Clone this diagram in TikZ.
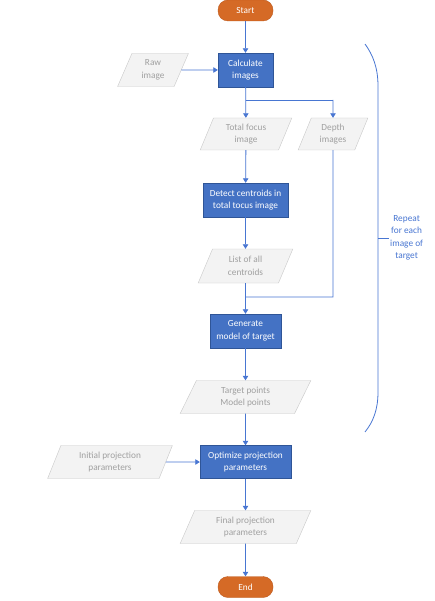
\documentclass[tikz,border=0pt]{standalone}
\usepackage{fontspec}
\setmainfont{Carlito}
\usetikzlibrary{shapes.geometric,arrows.meta}
\definecolor{orng}{RGB}{213,106,38}
\definecolor{orngd}{RGB}{190,90,30}
\definecolor{bfill}{RGB}{68,114,196}
\definecolor{bdraw}{RGB}{47,85,151}
\definecolor{conn}{RGB}{72,118,210}
\definecolor{pfill}{RGB}{243,243,243}
\definecolor{pdraw}{RGB}{200,200,200}
\definecolor{ptext}{RGB}{160,160,160}
\tikzset{
  base/.style={font=\fontsize{9.3}{12.5}\selectfont, align=center, inner sep=1pt},
  term/.style={base, rounded corners=10pt, fill=orng, draw=orngd, text=white, minimum width=55pt, minimum height=21pt},
  proc/.style={base, fill=bfill, draw=bdraw, text=white, minimum height=34pt},
  data/.style={base, trapezium, trapezium left angle=69, trapezium right angle=111, trapezium stretches=true,
    fill=pfill, draw=pdraw, text=ptext, minimum height=33pt},
  arr/.style={draw=conn, line width=0.8pt, -{Triangle[width=5.5pt,length=4.5pt]}},
  ln/.style={draw=conn, line width=0.8pt}
}
\begin{document}
\begin{tikzpicture}[x=1pt,y=-1pt]
\useasboundingbox (0,0) rectangle (435,601);
\fill[white] (0,0) rectangle (435,601);
\node[term] (start) at (245.5,10.5) {Start};
\node[proc, minimum width=55pt] (calc) at (245.5,70) {Calculate\\images};
\node[data, minimum width=71pt] (raw) at (153,70) {Raw\\image};
\node[data, minimum width=92pt, minimum height=32pt] (total) at (246,134) {Total focus\\image};
\node[data, minimum width=70pt, minimum height=32pt] (depth) at (333,134) {Depth\\images};
\node[proc, minimum width=85pt] (detect) at (245.5,200) {Detect centroids in\\total tocus image};
\node[data, minimum width=95pt, minimum height=34pt] (list) at (245.5,266) {List of all\\centroids};
\node[proc, minimum width=71pt] (gen) at (245.5,331) {Generate\\model of target};
\node[data, minimum width=131pt] (target) at (245.5,397) {Target points\\Model points};
\node[proc, minimum width=91pt, minimum height=33pt] (opt) at (245.5,462) {Optimize projection\\parameters};
\node[data, minimum width=125pt] (init) at (110,462) {Initial projection\\parameters};
\node[data, minimum width=131pt] (final) at (245.5,527) {Final projection\\parameters};
\node[term] (end) at (245.5,587) {End};
\coordinate (split) at (245.5,100);
\coordinate (splitr) at (333,100);
\coordinate (join) at (245.5,297);
\coordinate (joinr) at (333,297);
\draw[arr] (start) -- (calc);
\draw[arr] (raw) -- (calc);
\draw[arr] (calc) -- (total);
\draw[ln] (split) -- (splitr);
\draw[arr] (splitr) -- (depth.north);
\draw[arr] (total) -- (detect);
\draw[arr] (detect) -- (list);
\draw[arr] (list) -- (gen);
\draw[ln] (depth.south) -- (joinr) -- (join);
\draw[arr] (gen) -- (target);
\draw[arr] (target) -- (opt);
\draw[arr] (init) -- (opt);
\draw[arr] (opt) -- (final);
\draw[arr] (final) -- (end);
% brace
\coordinate (btop) at (365,44);
\coordinate (bbot) at (365,432);
\coordinate (bmid) at (378,238);
\coordinate (btip) at (389,238);
\draw[ln] (btop) .. controls (373,55) and (378,68) .. (378,86) -- (378,392) .. controls (378,410) and (373,422) .. (bbot);
\draw[ln] (bmid) -- (btip);
\node[base, text=conn, anchor=west] (rep) at (389,238) {Repeat\\for each\\image of\\target};
\end{tikzpicture}
\end{document}
